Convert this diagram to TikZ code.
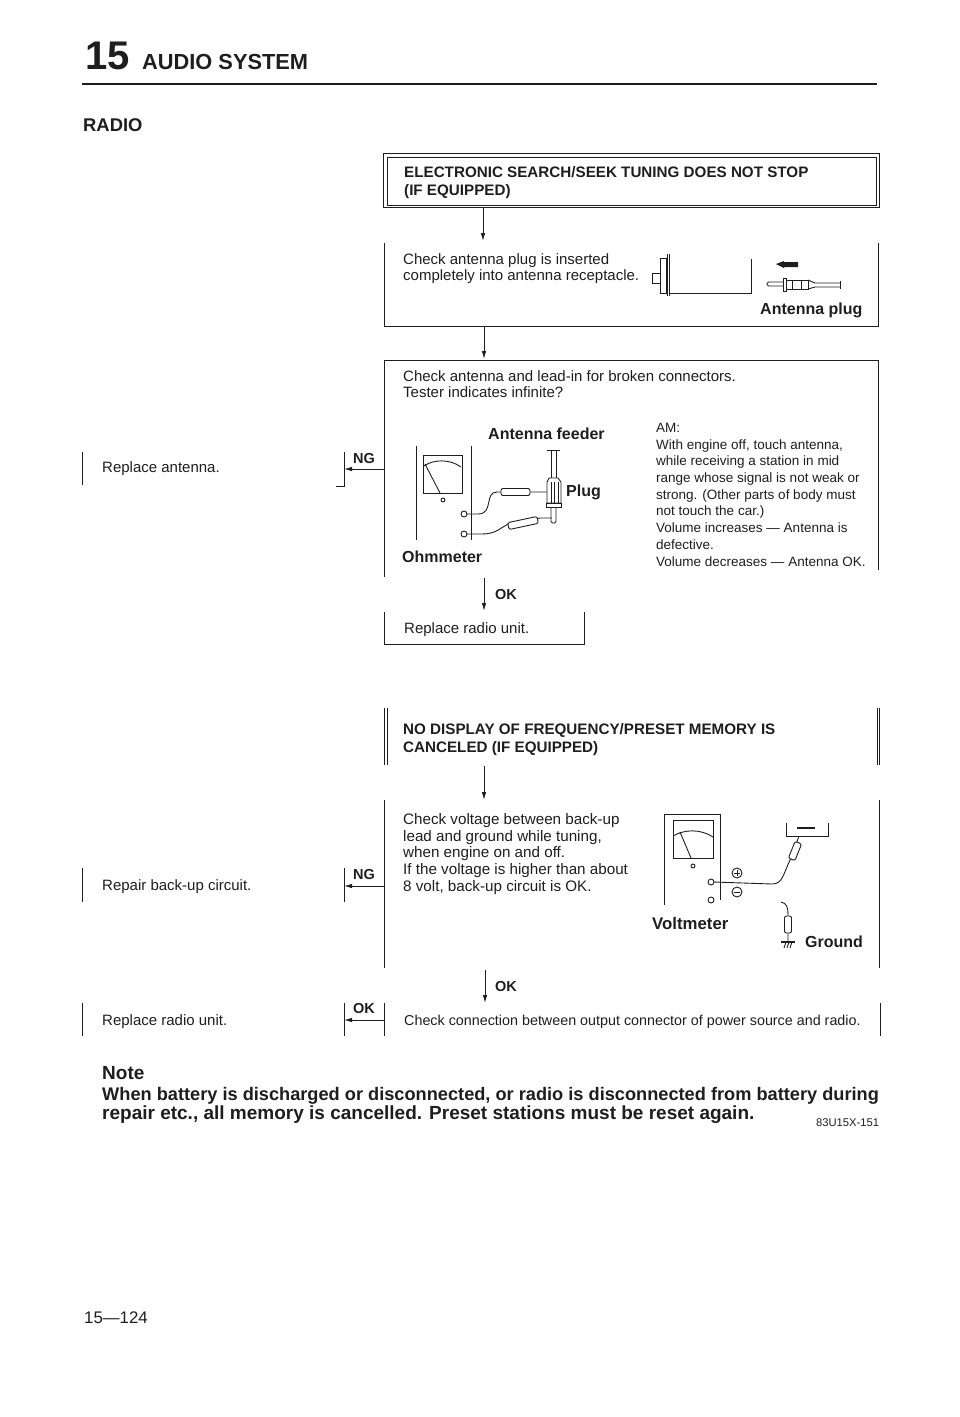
\documentclass[tikz,border=0pt]{standalone}
\usepackage{fontspec}
\setmainfont{Liberation Sans}
\usetikzlibrary{arrows.meta}
\definecolor{ink}{HTML}{1E1E1E}
\tikzset{
  txt/.style={inner sep=0pt,anchor=north west,align=left,text=ink,font=\fontsize{15}{16.6}\selectfont},
  btxt/.style={txt,font=\fontsize{15.2}{18.3}\selectfont\bfseries},
  lbl/.style={inner sep=0pt,anchor=base west,text=ink,font=\fontsize{16}{18}\selectfont\bfseries},
  slbl/.style={lbl,font=\fontsize{14.5}{16}\selectfont\bfseries},
  flow/.style={-{Latex[length=8pt,width=4.5pt]},line width=0.9pt,draw=ink},
  frame/.style={line width=1pt,draw=ink},
  pen/.style={line width=0.9pt,draw=ink},
  res/.style={line width=0.9pt,draw=ink,fill=white,rounded corners=2pt},
}
\begin{document}
\begin{tikzpicture}[x=1pt,y=-1pt]
\useasboundingbox (0,0) rectangle (960,1417);
% header
\node[lbl,font=\fontsize{40}{40}\selectfont\bfseries] (chap) at (85,69) {15};
\node[lbl,font=\fontsize{21.8}{22}\selectfont\bfseries] (title) at (142,69) {AUDIO SYSTEM};
\coordinate (ruleL) at (82,83.5); \coordinate (ruleR) at (877,83.5);
\draw[draw=ink,line width=2pt] (ruleL) -- (ruleR);
\node[lbl,font=\fontsize{18.4}{20}\selectfont\bfseries] (radio) at (83,131) {RADIO};
% box 1
\coordinate (b1a) at (383,153); \coordinate (b1b) at (879,207);
\coordinate (b1c) at (387,157); \coordinate (b1d) at (876,205);
\draw[frame] (b1a) rectangle (b1b);
\draw[frame] (b1c) rectangle (b1d);
\node[btxt] (t1) at (404,166) {ELECTRONIC SEARCH/SEEK TUNING DOES NOT STOP\\(IF EQUIPPED)};
% box 2
\coordinate (b2tl) at (384,243); \coordinate (b2bl) at (384,326);
\coordinate (b2br) at (878,326); \coordinate (b2tr) at (878,243);
\draw[frame] (b2tl) -- (b2bl) -- (b2br) -- (b2tr);
\coordinate (a1s) at (483,207); \coordinate (a1e) at (483,241);
\draw[flow] (a1s) -- (a1e);
\node[txt] (t2) at (403,253) {Check antenna plug is inserted\\completely into antenna receptacle.};
% receptacle
\draw[pen] (652,273) rectangle (660,283);
\draw[pen] (660,258) rectangle (666,293);
\draw[pen] (667,254) -- (667,296) (669,254) -- (669,296);
\draw[pen] (669,293) -- (751,293) -- (751,259);
\fill[ink] (776,264) -- (784,261) -- (784,262) -- (798,262) -- (798,267) -- (784,267) -- (784,268) -- cycle;
% antenna plug
\draw[pen,rounded corners=1.5pt] (783,282) -- (767,282) -- (767,286) -- (783,286);
\draw[pen] (783,278) rectangle (786,291);
\draw[pen] (786,280) rectangle (808,289);
\draw[pen] (792,280) -- (792,289) (801,280) -- (801,289);
\draw[pen] (808,280) -- (815,283) -- (840,283) (808,289) -- (815,287) -- (840,287);
\draw[pen] (840,281) -- (840,289);
\node[lbl] (t2b) at (760,314) {Antenna plug};
% box 3
\coordinate (b3tl) at (384,360); \coordinate (b3tr) at (878,360);
\coordinate (b3bl) at (384,577); \coordinate (b3br) at (878,570);
\draw[frame] (b3bl) -- (b3tl) -- (b3tr) -- (b3br);
\coordinate (a2s) at (484,326); \coordinate (a2e) at (484,359);
\draw[flow] (a2s) -- (a2e);
\node[txt] (t3) at (403,370) {Check antenna and lead-in for broken connectors.\\Tester indicates infinite?};
\node[txt,font=\fontsize{13.5}{16.7}\selectfont] (t3r) at (656,423) {AM:\\With engine off, touch antenna,\\while receiving a station in mid\\range whose signal is not weak or\\strong. (Other parts of body must\\not touch the car.)\\Volume increases — Antenna is\\defective.\\Volume decreases — Antenna OK.};
% ohmmeter
\draw[pen] (416,446) -- (416,540) (471,446) -- (471,540);
\draw[pen] (423,455) rectangle (462,493);
\draw[pen] (424,466) .. controls (434,459) and (450,459) .. (461,467);
\draw[pen] (425,464) -- (440,493);
\draw[pen] (443,500) circle (2);
\draw[pen] (464,514) circle (3);
\draw[pen] (464,534) circle (3);
\draw[pen] (467,514) -- (478,514) .. controls (494,514) and (484,492) .. (497,492) -- (547,492);
\draw[res] (501,488.5) rectangle (530,495.5);
\draw[pen] (467,534) -- (482,534) .. controls (496,534) and (500,528) .. (510,523) -- (540,518) -- (552,518);
\draw[res,rotate around={12:(523,523)}] (508,519.5) rectangle (538,526.5);
% antenna feeder plug
\draw[pen] (551,450) -- (551,478) (556,450) -- (556,478);
\draw[pen] (547,450) -- (560,450);
\draw[pen] (549,478) -- (547,482) -- (547,503) -- (561,503) -- (561,482) -- (558,478) -- cycle;
\draw[pen] (551,482) -- (551,503) (554,482) -- (554,503) (558,482) -- (558,503);
\draw[pen] (546,503) rectangle (561,507);
\draw[pen,rounded corners=1.5pt] (551,507) -- (551,523) -- (556,523) -- (556,507);
\node[lbl] (t3a) at (488,439) {Antenna feeder};
\node[lbl] (t3p) at (566,496) {Plug};
\node[lbl] (t3o) at (402,562) {Ohmmeter};
% NG 1
\coordinate (n1) at (384,469); \coordinate (n1b) at (344,469);
\draw[flow] (n1) -- (n1b);
\coordinate (n1t) at (344,452); \coordinate (n1e) at (344,486); \coordinate (n1d) at (336,486);
\draw[frame] (n1t) -- (n1e) -- (n1d);
\node[slbl] (ng1) at (353,463) {NG};
\coordinate (r1t) at (82,452); \coordinate (r1b) at (82,485);
\draw[frame] (r1t) -- (r1b);
\node[txt,anchor=base west] (ra) at (102,472) {Replace antenna.};
% OK 1
\coordinate (k1s) at (484,578); \coordinate (k1e) at (484,611);
\draw[flow] (k1s) -- (k1e);
\node[slbl] (ok1) at (495,599) {OK};
\coordinate (b4a) at (384,612); \coordinate (b4b) at (384,644); \coordinate (b4c) at (584,644); \coordinate (b4d) at (584,612);
\draw[frame] (b4a) -- (b4b) -- (b4c) -- (b4d);
\node[txt,anchor=base west] (rr) at (404,633) {Replace radio unit.};
% section 2 head
\coordinate (h1) at (384,708); \coordinate (h2) at (384,765);
\coordinate (h3) at (387,708); \coordinate (h4) at (387,765);
\coordinate (h5) at (877,708); \coordinate (h6) at (877,765);
\coordinate (h7) at (879,708); \coordinate (h8) at (879,765);
\draw[frame] (h1) -- (h2) (h3) -- (h4) (h5) -- (h6) (h7) -- (h8);
\node[btxt] (t5) at (403,723) {NO DISPLAY OF FREQUENCY/PRESET MEMORY IS\\CANCELED (IF EQUIPPED)};
\coordinate (a3s) at (484,766); \coordinate (a3e) at (484,800);
\draw[flow] (a3s) -- (a3e);
% box 5
\coordinate (b5l) at (384,800); \coordinate (b5lb) at (384,968);
\coordinate (b5r) at (879,800); \coordinate (b5rb) at (879,968);
\draw[frame] (b5l) -- (b5lb) (b5r) -- (b5rb);
\node[txt,font=\fontsize{15.2}{16.6}\selectfont] (t6) at (403,813.5) {Check voltage between back-up\\lead and ground while tuning,\\when engine on and off.\\If the voltage is higher than about\\8 volt, back-up circuit is OK.};
% voltmeter
\draw[pen] (664,905) -- (664,814) -- (720,814) -- (720,900);
\draw[pen] (673,820) rectangle (713,858);
\draw[pen] (673,836) .. controls (685,829) and (701,829) .. (713,837);
\draw[pen] (680,832) -- (691,858);
\draw[pen] (693,866) circle (2);
\draw[pen] (711,882) circle (3);
\draw[pen] (711,900) circle (3);
\draw[pen] (714,882) -- (772,884) .. controls (783,884) and (783,874) .. (791,858) -- (799,836);
\draw[res,rotate around={-22:(795,851)}] (791.5,842) rectangle (798.5,860);
\draw[pen] (786,823) -- (786,836) -- (828,836) -- (828,823);
\draw[draw=ink,line width=1.2pt] (797,828) -- (815,828);
\draw[pen] (737,873) circle (5); \draw[pen] (734,873) -- (740,873) (737,870) -- (737,876);
\draw[pen] (737,892) circle (5); \draw[pen] (734,892) -- (740,892);
\draw[pen] (781,902) .. controls (787,903) and (788,908) .. (788,915) -- (788,942);
\draw[res] (784.5,916) rectangle (791.5,933);
\draw[draw=ink,line width=1.2pt] (781,942) -- (795,942);
\draw[pen] (786,942) -- (784,948) (789,942) -- (787,948) (792,942) -- (790,948);
\node[lbl,font=\fontsize{16.8}{18}\selectfont\bfseries] (tv) at (652,929) {Voltmeter};
\node[lbl] (tg) at (805,947) {Ground};
% NG 2
\coordinate (n2) at (384,886); \coordinate (n2b) at (344,886);
\draw[flow] (n2) -- (n2b);
\coordinate (n2t) at (344,868); \coordinate (n2e) at (344,902);
\draw[frame] (n2t) -- (n2e);
\node[slbl] (ng2) at (353,879) {NG};
\coordinate (r2t) at (82,868); \coordinate (r2b) at (82,902);
\draw[frame] (r2t) -- (r2b);
\node[txt,anchor=base west] (rb) at (102,890) {Repair back-up circuit.};
% OK 2
\coordinate (k2s) at (485,970); \coordinate (k2e) at (485,1003);
\draw[flow] (k2s) -- (k2e);
\node[slbl] (ok2) at (495,991) {OK};
% last row
\coordinate (b6a) at (384,1003); \coordinate (b6b) at (384,1036);
\coordinate (b6c) at (880,1003); \coordinate (b6d) at (880,1036);
\draw[frame] (b6a) -- (b6b) (b6c) -- (b6d);
\node[txt,anchor=base west,font=\fontsize{14.33}{16.6}\selectfont] (t7) at (404,1025) {Check connection between output connector of power source and radio.};
\coordinate (n3) at (384,1020); \coordinate (n3b) at (344,1020);
\draw[flow] (n3) -- (n3b);
\coordinate (n3t) at (344,1003); \coordinate (n3e) at (344,1036);
\draw[frame] (n3t) -- (n3e);
\node[slbl] (ok3) at (353,1013) {OK};
\coordinate (r3t) at (82,1003); \coordinate (r3b) at (82,1036);
\draw[frame] (r3t) -- (r3b);
\node[txt,anchor=base west] (rc) at (102,1025) {Replace radio unit.};
% note
\node[lbl,font=\fontsize{19}{20}\selectfont\bfseries] (note1) at (102,1079) {Note};
\node[lbl,font=\fontsize{18.2}{20}\selectfont\bfseries] (note2) at (102,1100) {When battery is discharged or disconnected, or radio is disconnected from battery during};
\node[lbl,font=\fontsize{19}{20}\selectfont\bfseries] (note3) at (102,1119) {repair etc., all memory is cancelled. Preset stations must be reset again.};
\node[txt,anchor=base west,font=\fontsize{11.2}{13}\selectfont] (code) at (816,1126) {83U15X-151};
\node[txt,anchor=base west,font=\fontsize{16.8}{18}\selectfont] (page) at (84,1323) {15—124};
\end{tikzpicture}
\end{document}
